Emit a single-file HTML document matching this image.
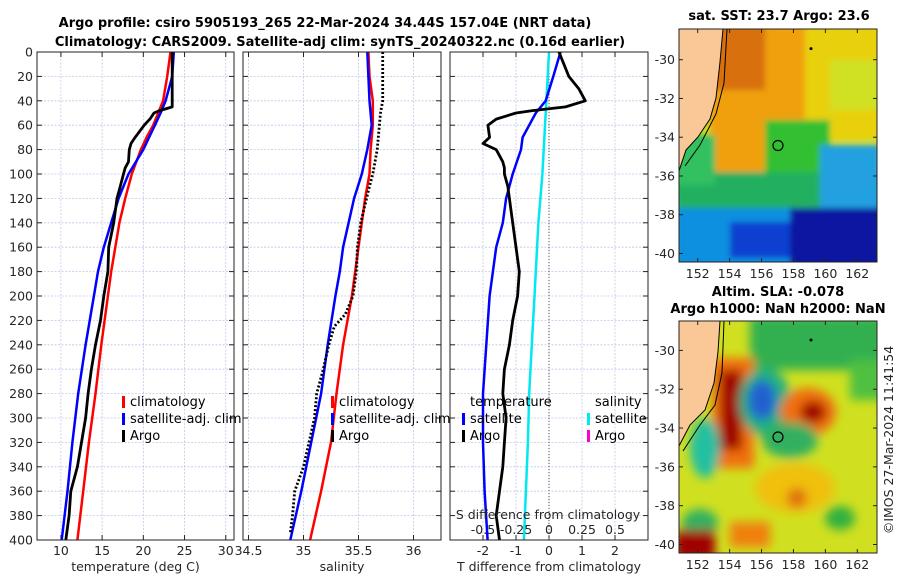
<!DOCTYPE html>
<html><head><meta charset="utf-8"><style>
body{margin:0;background:#fff;}
svg{display:block;font-family:"DejaVu Sans","Liberation Sans",sans-serif;}
.tk{font-size:12.5px;fill:#262626;}
.tt{font-size:13px;font-weight:bold;fill:#000;}
.lg{font-size:13px;fill:#000;}
</style></head><body>
<svg id="fig" width="900" height="580" viewBox="0 0 900 580">
<defs>
<filter id="bl" x="-20%" y="-20%" width="140%" height="140%"><feGaussianBlur stdDeviation="5"/></filter>
<filter id="bl2" x="-20%" y="-20%" width="140%" height="140%"><feGaussianBlur stdDeviation="3"/></filter>
<clipPath id="c1"><rect x="679" y="29" width="198" height="233"/></clipPath>
<clipPath id="c2"><rect x="679" y="321" width="198" height="232"/></clipPath>
</defs>
<text class="tt" x="325" y="27" text-anchor="middle">Argo profile: csiro 5905193_265 22-Mar-2024 34.44S 157.04E (NRT data)</text>
<text class="tt" x="340" y="46" text-anchor="middle">Climatology: CARS2009. Satellite-adj clim: synTS_20240322.nc (0.16d earlier)</text>
<g id="plots"></g>

<!-- SST map -->
<g clip-path="url(#c1)">
<rect x="679" y="29" width="198" height="233" fill="#c8e020"/>
<g filter="url(#bl2)">
<rect x="800" y="25" width="85" height="115" fill="#e8d010"/>
<rect x="710" y="25" width="95" height="165" fill="#f0a010"/>
<rect x="715" y="25" width="50" height="65" fill="#d87010"/>
<rect x="830" y="60" width="50" height="50" fill="#d0e020"/>
<rect x="765" y="120" width="65" height="60" fill="#30c030"/>
<rect x="675" y="172" width="210" height="42" fill="#20b060"/>
<rect x="820" y="145" width="60" height="65" fill="#20a0e0"/>
<rect x="675" y="208" width="210" height="60" fill="#1090e0"/>
<rect x="730" y="222" width="60" height="36" fill="#1040d0"/>
<rect x="790" y="208" width="95" height="60" fill="#0818a0"/>
<rect x="675" y="135" width="40" height="50" fill="#30c060"/>
</g>
<path d="M679,29 L723,29 L720,62 L716,98 L710,119 L698,137 L686,150 L679,171 Z" fill="#f9c896"/>
<path d="M723,29 L720,62 L716,98 L710,119 L698,137 L686,150 L679,171" fill="none" stroke="#000" stroke-width="1"/>
<path d="M727,29 L724,83 L716,114 L700,145 L685,166" fill="none" stroke="#000" stroke-width="1"/>
<circle cx="778" cy="145.5" r="5" fill="none" stroke="#000" stroke-width="1.2"/>
<circle cx="811" cy="48.6" r="1.5" fill="#000"/>
</g>
<rect x="679" y="29" width="198" height="233" fill="none" stroke="#222"/>
<text class="tt" x="779" y="20" text-anchor="middle">sat. SST: 23.7 Argo: 23.6</text>
<text class="tt" x="778" y="296" text-anchor="middle">Altim. SLA: -0.078</text>
<text class="tt" x="778" y="313" text-anchor="middle">Argo h1000: NaN h2000: NaN</text>

<!-- SLA map -->
<g clip-path="url(#c2)">
<rect x="679" y="321" width="198" height="232" fill="#d0e020"/>
<g filter="url(#bl)">
<rect x="750" y="315" width="135" height="55" fill="#30b050"/>
<rect x="850" y="360" width="35" height="40" fill="#50c040"/>
<rect x="712" y="358" width="42" height="110" fill="#f07010"/>
<rect x="720" y="370" width="22" height="80" fill="#a00000"/>
<ellipse cx="765" cy="402" rx="26" ry="34" fill="#20b080"/>
<ellipse cx="762" cy="400" rx="14" ry="20" fill="#2060d0"/>
<ellipse cx="808" cy="412" rx="28" ry="24" fill="#f07010"/>
<ellipse cx="813" cy="412" rx="13" ry="11" fill="#a00000"/>
<ellipse cx="705" cy="448" rx="15" ry="30" fill="#20c0a0"/>
<ellipse cx="790" cy="440" rx="28" ry="18" fill="#30b060"/>
<ellipse cx="795" cy="488" rx="40" ry="25" fill="#f0c010"/>
<ellipse cx="797" cy="498" rx="10" ry="10" fill="#e07010"/>
<ellipse cx="700" cy="523" rx="18" ry="14" fill="#30b060"/>
<ellipse cx="840" cy="518" rx="15" ry="12" fill="#30b040"/>
<rect x="675" y="530" width="40" height="30" fill="#a00000"/>
<rect x="730" y="522" width="40" height="25" fill="#f08010"/>
</g>
<path d="M679,321 L720,321 L718,352 L714,383 L705,410 L690,425 L679,446 Z" fill="#f9c896"/>
<path d="M720,321 L718,352 L714,383 L705,410 L690,425 L679,446" fill="none" stroke="#000"/>
<path d="M724,321 L722,373 L715,405 L700,425 L683,451" fill="none" stroke="#000"/>
<circle cx="778" cy="437" r="5" fill="none" stroke="#000" stroke-width="1.2"/>
<circle cx="811" cy="340" r="1.5" fill="#000"/>
</g>
<rect x="679" y="321" width="198" height="232" fill="none" stroke="#222"/>
<g id="mapaxes"></g>
<text class="tk" transform="translate(893,440) rotate(-90)" text-anchor="middle">©IMOS 27-Mar-2024 11:41:54</text>
</svg>
<script>
const depths = [0,10,20,30,40,45,48,50,55,60,70,75,80,90,95,100,110,120,140,160,180,200,220,240,260,280,300,320,340,360,380,400];
const climDepths = [0,20,40,50,60,70,80,100,120,140,160,180,200,240,280,320,360,400];
const tempClim = [23.3,22.9,22.4,21.8,21.2,20.4,19.7,18.6,17.8,17.1,16.6,16.1,15.7,14.9,14.2,13.4,12.7,12.0];
const tempSat = [23.7,23.5,22.7,22.1,21.4,20.7,20.0,18.2,17.0,16.1,15.2,14.5,14.0,13.0,12.1,11.4,10.8,10.1];
const tempArgo = [23.5,23.5,23.5,23.5,23.5,23.5,22.0,21.3,20.8,20.1,19.0,18.5,18.3,18.2,17.8,17.6,17.2,16.8,16.4,15.8,15.7,15.2,14.8,14.2,13.7,13.3,13.0,12.5,12.0,11.2,11.0,10.6];
const salClim = [35.59,35.60,35.63,35.63,35.63,35.62,35.61,35.60,35.56,35.53,35.50,35.47,35.44,35.36,35.30,35.25,35.16,35.06];
const salSat = [35.58,35.59,35.60,35.61,35.62,35.60,35.58,35.53,35.46,35.41,35.36,35.33,35.29,35.22,35.16,35.07,34.98,34.88];
const salArgoDepths = [0,40,50,80,100,110,140,160,180,200,215,225,240,260,280,300,320,340,360,380,395];
const salArgo = [35.72,35.72,35.70,35.67,35.63,35.60,35.52,35.49,35.48,35.45,35.38,35.28,35.23,35.18,35.12,35.10,35.05,35.00,34.92,34.90,34.88];
const dTSat = [0.35,0.13,-0.1,-0.4,-0.6,-0.8,-0.85,-1.1,-1.3,-1.4,-1.6,-1.7,-1.8,-1.9,-2.0,-2.0,-1.95,-1.86];
const dTArgo = [0.3,0.45,0.6,0.9,1.1,0.5,-0.5,-1.0,-1.6,-1.85,-1.8,-2.0,-1.6,-1.4,-1.35,-1.35,-1.25,-1.2,-1.1,-1.0,-0.9,-0.95,-1.1,-1.2,-1.35,-1.4,-1.3,-1.35,-1.4,-1.5,-1.6,-1.5];
const dSSat = [0,-0.01,-0.02,-0.025,-0.03,-0.035,-0.04,-0.05,-0.065,-0.08,-0.09,-0.1,-0.11,-0.13,-0.15,-0.16,-0.175,-0.19];
const depthTicks = [0,20,40,60,80,100,120,140,160,180,200,220,240,260,280,300,320,340,360,380,400];
const tempTicks = [10,15,20,25,30];
const salTicks = [34.5,35,35.5,36];
const dTTicks = [-2,-1,0,1,2];
const dSTicks = [-0.5,-0.25,0,0.25,0.5];
const lonTicks = [152,154,156,158,160,162];
const latTicks = [-30,-32,-34,-36,-38,-40];

const NS='http://www.w3.org/2000/svg';
const plots=document.getElementById('plots');
const TOP=52, BOT=540;
function yD(d){return TOP+(BOT-TOP)*d/400;}
function mk(tag,attrs,parent){const e=document.createElementNS(NS,tag);for(const k in attrs)e.setAttribute(k,attrs[k]);(parent||plots).appendChild(e);return e;}
function lin(d0,d1,p0,p1){return v=>p0+(v-d0)*(p1-p0)/(d1-d0);}
const panels=[
 {x0:37,x1:234,xs:lin(7.1,31,37,234),ticks:tempTicks,lab:'temperature (deg C)',name:'temperature-panel'},
 {x0:243,x1:441,xs:lin(34.45,36.25,243,441),ticks:salTicks,lab:'salinity',name:'salinity-panel'},
 {x0:450,x1:648,xs:lin(-3,3,450,648),ticks:dTTicks,lab:'T difference from climatology',name:'difference-panel'}
];
panels.forEach((p,i)=>{
 const g=mk('g',{});
 
 
 p.g=g;
 depthTicks.forEach(d=>{
  const l=mk('line',{x1:p.x0,x2:p.x1,y1:yD(d),y2:yD(d),stroke:'#c0c8e8','stroke-width':0.8,'stroke-dasharray':'2,1.5'},g);
  
  
  mk('line',{x1:p.x0,x2:p.x0+5,y1:yD(d),y2:yD(d),stroke:'#222'},g);
  mk('line',{x1:p.x1-5,x2:p.x1,y1:yD(d),y2:yD(d),stroke:'#222'},g);
  if(i===0){const t=mk('text',{x:p.x0-4,y:yD(d)+4.5,'text-anchor':'end',class:'tk'},g);t.textContent=d;
   }
 });
 p.ticks.forEach(v=>{
  const x=p.xs(v);
  mk('line',{x1:x,x2:x,y1:TOP,y2:BOT,stroke:'#c0c8e8','stroke-width':0.8,'stroke-dasharray':'2,1.5'},g);
  mk('line',{x1:x,x2:x,y1:BOT,y2:BOT-5,stroke:'#222'},g);
  mk('line',{x1:x,x2:x,y1:TOP,y2:TOP+5,stroke:'#222'},g);
  const t=mk('text',{x:x,y:BOT+15,'text-anchor':'middle',class:'tk'},g);t.textContent=v;
  
 });
 const lt=mk('text',{x:(p.x0+p.x1)/2,y:571,'text-anchor':'middle',class:'tk'},g);lt.textContent=p.lab;
 
});
function line(p,xs,ds,vals,color,w,dash,name){
 const pts=vals.map((v,i)=>xs(v).toFixed(1)+','+yD(ds[i]).toFixed(1)).join(' ');
 const e=mk('polyline',{points:pts,fill:'none',stroke:color,'stroke-width':w,'stroke-linejoin':'round'},p.g);
 if(dash)e.setAttribute('stroke-dasharray',dash);
 
 
}
const P=panels;
line(P[0],P[0].xs,climDepths,tempClim,'#ff0000',2.5,null,'temp-climatology-line');
line(P[0],P[0].xs,climDepths,tempSat,'#0000ff',2.5,null,'temp-satellite-line');
line(P[0],P[0].xs,depths,tempArgo,'#000',2.8,null,'temp-argo-line');
line(P[1],P[1].xs,climDepths,salClim,'#ff0000',2.5,null,'sal-climatology-line');
line(P[1],P[1].xs,climDepths,salSat,'#0000ff',2.5,null,'sal-satellite-line');
line(P[1],P[1].xs,salArgoDepths,salArgo,'#000',2.8,'2,2','sal-argo-line');
const sx=lin(-0.75,0.75,450,648);
mk('line',{x1:P[2].xs(0),x2:P[2].xs(0),y1:TOP,y2:BOT,stroke:'#555','stroke-width':1,'stroke-dasharray':'1,2'},P[2].g);
line(P[2],sx,climDepths,dSSat,'#00e8f0',2.5,null,'sal-diff-satellite-line');
line(P[2],P[2].xs,climDepths,dTSat,'#0000ff',2.5,null,'temp-diff-satellite-line');
line(P[2],P[2].xs,depths,dTArgo,'#000',2.8,null,'temp-diff-argo-line');
panels.forEach(p=>{const r=mk('rect',{x:p.x0,y:TOP,width:p.x1-p.x0,height:BOT-TOP,fill:'none',stroke:'#222','stroke-width':1},p.g);
 });
const sl=mk('text',{x:548,y:519,'text-anchor':'middle',class:'tk'},P[2].g);sl.textContent='S difference from climatology';

dSTicks.forEach(v=>{const t=mk('text',{x:sx(v),y:534,'text-anchor':'middle',class:'tk'},P[2].g);t.textContent=v;
 });
function leg(g,x,y,color,label,nm){
 mk('rect',{x:x,y:y-10,width:3,height:12,fill:color},g);
 const t=mk('text',{x:x+8,y:y,class:'lg'},g);t.textContent=label;
 
}
[[P[0],122],[P[1],331]].forEach(([p,x])=>{
 leg(p.g,x,406,'#ff0000','climatology','legend-climatology');
 leg(p.g,x,423,'#0000ff','satellite-adj. clim','legend-satellite-adj');
 leg(p.g,x,440,'#000','Argo','legend-argo');
});
const tl=mk('text',{x:470,y:406,class:'lg'},P[2].g);tl.textContent='temperature';

const sh=mk('text',{x:595,y:406,class:'lg'},P[2].g);sh.textContent='salinity';

leg(P[2].g,462,423,'#0000ff','satellite','legend-temp-satellite');
leg(P[2].g,462,440,'#000','Argo','legend-temp-argo');
leg(P[2].g,587,423,'#00e8f0','satellite','legend-sal-satellite');
leg(P[2].g,587,440,'#ff00cc','Argo','legend-sal-argo');
const ma=document.getElementById('mapaxes');
const lonX=lin(152,162,697.7,857.3);
[[29,262,lin(-30,-40,59.7,253.5)],[321,553,lin(-30,-40,350.4,544.5)]].forEach(([t,b,ly])=>{
 lonTicks.forEach(v=>{const x=lonX(v);
  mk('line',{x1:x,x2:x,y1:b,y2:b-4,stroke:'#222'},ma);mk('line',{x1:x,x2:x,y1:t,y2:t+4,stroke:'#222'},ma);
  const e=mk('text',{x:x,y:b+16,'text-anchor':'middle',class:'tk'},ma);e.textContent=v;
  });
 latTicks.forEach(v=>{const y=ly(v);
  mk('line',{x1:679,x2:683,y1:y,y2:y,stroke:'#222'},ma);mk('line',{x1:873,x2:877,y1:y,y2:y,stroke:'#222'},ma);
  const e=mk('text',{x:675,y:y+4.5,'text-anchor':'end',class:'tk'},ma);e.textContent=v;
  });
});
</script>
</body></html>
